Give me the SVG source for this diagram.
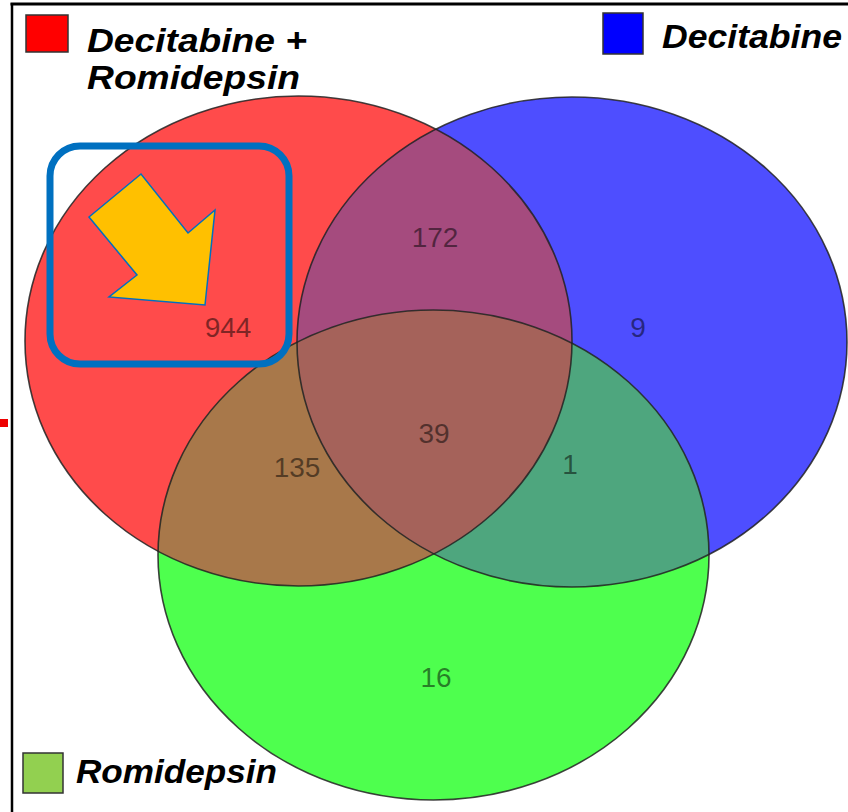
<svg xmlns="http://www.w3.org/2000/svg" width="848" height="812" viewBox="0 0 848 812">
<style>
.leg{font-family:"Liberation Sans",Arial,sans-serif;font-weight:bold;font-style:italic;font-size:34px;fill:#000}
.num{font-family:"Liberation Sans",Arial,sans-serif;font-size:28px;fill:#000;fill-opacity:0.5;text-anchor:middle}
.edge{fill:none;stroke:#222;stroke-width:1.6;stroke-opacity:0.85}
.sq{stroke:#333;stroke-width:1.5}
</style>
<defs>
<clipPath id="cR"><ellipse cx="298.5" cy="341" rx="273.5" ry="245"/></clipPath>
<clipPath id="cB"><ellipse cx="572" cy="342" rx="275" ry="245"/></clipPath>
<clipPath id="cRB" clip-path="url(#cR)"><ellipse cx="572" cy="342" rx="275" ry="245"/></clipPath>
</defs>
<rect width="848" height="812" fill="#fff"/>
<g id="frame">
<line x1="10.5" y1="4" x2="848" y2="4" stroke="#000" stroke-width="3"/>
<line x1="12" y1="3" x2="12" y2="812" stroke="#000" stroke-width="2.5"/>
<rect x="0" y="419" width="8" height="8" fill="#e00"/>
</g>
<g id="set-red"><ellipse cx="298.5" cy="341" rx="273.5" ry="245" fill="#FF4B4B"/></g>
<g id="set-blue"><ellipse cx="572" cy="342" rx="275" ry="245" fill="#4E4EFF"/></g>
<g id="set-green"><ellipse cx="433.5" cy="555" rx="275.5" ry="245" fill="#4EFF4E"/></g>
<g id="overlaps">
<ellipse cx="572" cy="342" rx="275" ry="245" fill="#A54B7E" clip-path="url(#cR)"/>
<ellipse cx="433.5" cy="555" rx="275.5" ry="245" fill="#A8784A" clip-path="url(#cR)"/>
<ellipse cx="433.5" cy="555" rx="275.5" ry="245" fill="#4EA67E" clip-path="url(#cB)"/>
<ellipse cx="433.5" cy="555" rx="275.5" ry="245" fill="#A5625A" clip-path="url(#cRB)"/>
</g>
<g id="outlines">
<ellipse class="edge" cx="298.5" cy="341" rx="273.5" ry="245"/>
<ellipse class="edge" cx="572" cy="342" rx="275" ry="245"/>
<ellipse class="edge" cx="433.5" cy="555" rx="275.5" ry="245"/>
</g>
<g id="labels">
<text class="num" x="228" y="337">944</text>
<text class="num" x="435" y="247">172</text>
<text class="num" x="638" y="337">9</text>
<text class="num" x="434" y="443">39</text>
<text class="num" x="297" y="477">135</text>
<text class="num" x="570" y="474">1</text>
<text class="num" x="436" y="687">16</text>
</g>
<g id="highlight">
<rect x="50" y="146" width="239" height="218" rx="30" fill="none" stroke="#0070C0" stroke-width="7"/>
<polygon points="205,305 215,210 188,233 141,174 89,217 137,275 109,297" fill="#FFC000" stroke="#0070C0" stroke-width="1.5" stroke-linejoin="miter"/>
</g>
<g id="legend-red">
<rect class="sq" x="26" y="15" width="42" height="37" fill="#FF0000"/>
<text class="leg" x="87" y="52" textLength="220" lengthAdjust="spacingAndGlyphs">Decitabine +</text>
<text class="leg" x="87" y="89" textLength="213" lengthAdjust="spacingAndGlyphs">Romidepsin</text>
</g>
<g id="legend-blue">
<rect class="sq" x="603" y="13" width="40" height="41" fill="#0000FF"/>
<text class="leg" x="662" y="48" textLength="180" lengthAdjust="spacingAndGlyphs">Decitabine</text>
</g>
<g id="legend-green">
<rect class="sq" x="23" y="753" width="40" height="40" fill="#92D050"/>
<text class="leg" x="76" y="783" textLength="201" lengthAdjust="spacingAndGlyphs">Romidepsin</text>
</g>
</svg>
